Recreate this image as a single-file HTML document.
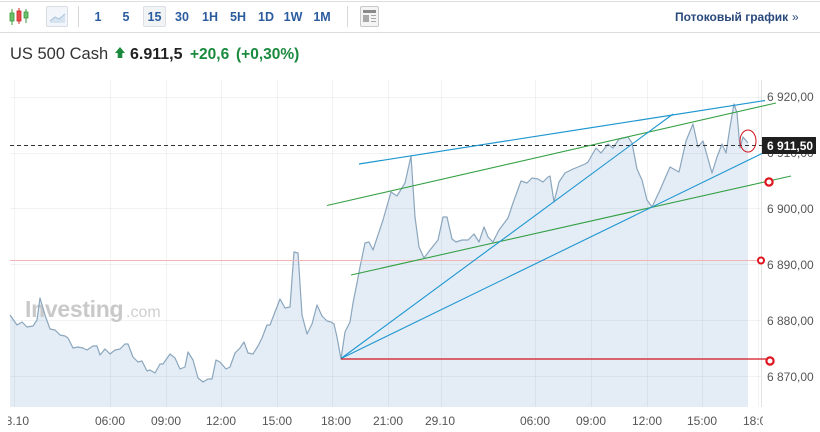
<!DOCTYPE html>
<html><head><meta charset="utf-8">
<style>
html,body{margin:0;padding:0;background:#fff;}
body{width:820px;height:432px;overflow:hidden;position:relative;font-family:"Liberation Sans",Arial,sans-serif;}
svg{position:absolute;left:0;top:0;}
</style></head><body>
<svg width="820" height="432" viewBox="0 0 820 432" xmlns="http://www.w3.org/2000/svg" font-family="Liberation Sans, Arial, sans-serif">
<!-- header borders -->
<line x1="0" y1="1.5" x2="820" y2="1.5" stroke="#dedede"/>
<line x1="0" y1="32.5" x2="820" y2="32.5" stroke="#dcdcdc"/>
<!-- candle icon -->
<g>
<line x1="12" y1="9" x2="12" y2="25" stroke="#3a9a3a"/>
<rect x="10" y="13" width="4" height="8" fill="#6cc06c" stroke="#3a9a3a" stroke-width="0.8"/>
<line x1="19" y1="8" x2="19" y2="24" stroke="#c82828"/>
<rect x="17" y="11" width="4" height="10" fill="#e84a4a" stroke="#c82828" stroke-width="0.8"/>
<line x1="26" y1="9" x2="26" y2="23" stroke="#3a9a3a"/>
<rect x="24" y="12" width="4" height="6" fill="#6cc06c" stroke="#3a9a3a" stroke-width="0.8"/>
</g>
<!-- area icon -->
<rect x="46.5" y="6.5" width="21" height="20" fill="#f2f5f9" stroke="#d8dde3" rx="1.5"/>
<path d="M50 21 L55 17 L59 19 L65 14 L65 23 L50 23 Z" fill="#d6e4f2"/>
<path d="M50 21 L55 17 L59 19 L65 14" fill="none" stroke="#a9c3dc" stroke-width="1"/>
<line x1="78.5" y1="6" x2="78.5" y2="27" stroke="#d6d6d6"/>
<!-- 15 box -->
<rect x="143.5" y="6.5" width="22" height="20" fill="#f1f3f5" stroke="#dcdfe3" rx="1.5"/>
<g font-size="12.5" font-weight="bold" fill="#2b5c9e" text-anchor="middle">
<text x="98" y="21">1</text>
<text x="126" y="21">5</text>
<text x="154.5" y="21">15</text>
<text x="182" y="21">30</text>
<text x="210" y="21">1H</text>
<text x="238" y="21">5H</text>
<text x="266" y="21">1D</text>
<text x="293" y="21">1W</text>
<text x="322" y="21">1M</text>
</g>
<line x1="347.5" y1="6" x2="347.5" y2="27" stroke="#d6d6d6"/>
<!-- news icon -->
<rect x="360.5" y="6.5" width="18" height="20" fill="#f4f4f4" stroke="#c8c8c8" rx="1.5"/>
<rect x="363" y="10" width="13" height="3" fill="#8a8a8a"/>
<rect x="363" y="15" width="6" height="7" fill="#a8a8a8"/>
<line x1="371" y1="15.5" x2="376" y2="15.5" stroke="#a8a8a8"/>
<line x1="371" y1="18.5" x2="376" y2="18.5" stroke="#a8a8a8"/>
<line x1="371" y1="21.5" x2="376" y2="21.5" stroke="#a8a8a8"/>
<text x="675" y="21" font-size="12" font-weight="bold" fill="#2a4a7c">Потоковый график</text>
<text x="792" y="21" font-size="12" fill="#2a4a7c">»</text>

<!-- title -->
<text x="10" y="59" font-size="16.5" fill="#333">US 500 Cash</text>
<path d="M120 47 L125 53 L122.3 53 L122.3 58 L117.7 58 L117.7 53 L115 53 Z" fill="#1a8a3e"/>
<text x="130" y="59" font-size="16" font-weight="bold" fill="#222">6.911,5</text>
<text x="190" y="59" font-size="15.5" font-weight="bold" fill="#1a8a3e">+20,6</text>
<text x="236" y="59" font-size="15.5" font-weight="bold" fill="#1a8a3e">(+0,30%)</text>

<!-- area fill -->
<polygon fill="#e4edf6" points="10,315 17,325 22,322 27,327 33,326 37,320 40,298 45,315 50,329 55,330 60,335 65,336 68,338 73,348 78,347 83,348 87,350 93,346 97,346 100,355 105,349 110,354 115,350 120,349 125,344 128,344 133,357 138,362 142,361 147,371 150,370 155,373 160,364 163,364 170,354 175,358 180,369 185,367 188,352 193,360 198,378 203,382 208,379 212,379 216,360 220,362 226,369 230,367 235,353 240,348 244,342 248,353 253,354 258,346 262,338 267,325 270,325 275,312 280,299 285,308 290,307 294,252 298,253 302,315 307,334 312,324 317,305 322,316 327,321 331,322 334,324 337,337 341,359 345,332 350,322 353,303 357,283 360,267 365,243 369,242 373,250 383,220 391,192 397,196 405,183 411,156 415,217 419,247 424,258 430,250 438,240 443,217 447,217 452,239 456,242 462,240 468,240 474,234 479,242 484,227 488,237 493,242 499,230 508,218 513,203 521,181 527,183 532,178 538,179 543,182 548,177 550,176 554,202 559,182 565,173 573,169 578,167 585,164 588,162 596,148 601,153 608,144 613,148 619,139 628,137 632,143 637,169 642,180 647,200 652,207 660,190 670,167 679,172 686,141 693,124 698,147 703,141 712,173 717,157 722,144 726,153 730,127 734,104 737,113 740,148 743,137 748,143 748,407 10,407"/>

<!-- grid -->
<g stroke="rgba(120,130,140,0.10)" stroke-width="1">
<line x1="14.5" y1="80" x2="14.5" y2="407"/>
<line x1="110.5" y1="80" x2="110.5" y2="407"/>
<line x1="166.5" y1="80" x2="166.5" y2="407"/>
<line x1="221.5" y1="80" x2="221.5" y2="407"/>
<line x1="277.5" y1="80" x2="277.5" y2="407"/>
<line x1="332.5" y1="80" x2="332.5" y2="407"/>
<line x1="388.5" y1="80" x2="388.5" y2="407"/>
<line x1="441.5" y1="80" x2="441.5" y2="407"/>
<line x1="535.5" y1="80" x2="535.5" y2="407"/>
<line x1="591.5" y1="80" x2="591.5" y2="407"/>
<line x1="647.5" y1="80" x2="647.5" y2="407"/>
<line x1="702.5" y1="80" x2="702.5" y2="407"/>
<line x1="758.5" y1="80" x2="758.5" y2="407"/>
<line x1="10" y1="97.5" x2="761" y2="97.5"/>
<line x1="10" y1="153.5" x2="761" y2="153.5"/>
<line x1="10" y1="208.5" x2="761" y2="208.5"/>
<line x1="10" y1="264.5" x2="761" y2="264.5"/>
<line x1="10" y1="320.5" x2="761" y2="320.5"/>
<line x1="10" y1="376.5" x2="761" y2="376.5"/>
</g>
<line x1="761.5" y1="80" x2="761.5" y2="407" stroke="#e2e2e2"/>

<!-- watermark -->
<text x="25" y="317" font-size="23" font-weight="bold" fill="#c9c9c9" letter-spacing="-0.3">Investing</text>
<text x="126" y="317" font-size="16" fill="#cfcfcf">.com</text>

<!-- price line -->
<polyline fill="none" stroke="#8ba6bd" stroke-width="1.2" stroke-linejoin="round" points="10,315 17,325 22,322 27,327 33,326 37,320 40,298 45,315 50,329 55,330 60,335 65,336 68,338 73,348 78,347 83,348 87,350 93,346 97,346 100,355 105,349 110,354 115,350 120,349 125,344 128,344 133,357 138,362 142,361 147,371 150,370 155,373 160,364 163,364 170,354 175,358 180,369 185,367 188,352 193,360 198,378 203,382 208,379 212,379 216,360 220,362 226,369 230,367 235,353 240,348 244,342 248,353 253,354 258,346 262,338 267,325 270,325 275,312 280,299 285,308 290,307 294,252 298,253 302,315 307,334 312,324 317,305 322,316 327,321 331,322 334,324 337,337 341,359 345,332 350,322 353,303 357,283 360,267 365,243 369,242 373,250 383,220 391,192 397,196 405,183 411,156 415,217 419,247 424,258 430,250 438,240 443,217 447,217 452,239 456,242 462,240 468,240 474,234 479,242 484,227 488,237 493,242 499,230 508,218 513,203 521,181 527,183 532,178 538,179 543,182 548,177 550,176 554,202 559,182 565,173 573,169 578,167 585,164 588,162 596,148 601,153 608,144 613,148 619,139 628,137 632,143 637,169 642,180 647,200 652,207 660,190 670,167 679,172 686,141 693,124 698,147 703,141 712,173 717,157 722,144 726,153 730,127 734,104 737,113 740,148 743,137 748,143"/>

<!-- pink level -->
<line x1="10" y1="260.5" x2="761" y2="260.5" stroke="#f2b4b4" stroke-width="1"/>
<circle cx="761" cy="260.5" r="3" fill="#fff" stroke="#e0141e" stroke-width="2"/>

<!-- dashed current price -->
<line x1="10" y1="145.5" x2="762" y2="145.5" stroke="#333" stroke-width="1" stroke-dasharray="4,3"/>

<!-- green lines -->
<line x1="327" y1="205.5" x2="776" y2="103" stroke="#36a046" stroke-width="1.1"/>
<line x1="351" y1="275" x2="791" y2="176" stroke="#36a046" stroke-width="1.1"/>
<!-- blue lines -->
<line x1="359" y1="164" x2="765" y2="100.5" stroke="#1e96d0" stroke-width="1.2"/>
<line x1="341" y1="358.5" x2="673" y2="114" stroke="#1e96d0" stroke-width="1.1"/>
<line x1="341" y1="358.5" x2="764" y2="152.5" stroke="#1e96d0" stroke-width="1.1"/>
<!-- red horizontal -->
<line x1="341" y1="359" x2="766" y2="359" stroke="#d0141e" stroke-width="1.3"/>
<circle cx="770" cy="361" r="3.6" fill="#fff" stroke="#e0141e" stroke-width="2.2"/>
<circle cx="769" cy="182" r="3.6" fill="#fff" stroke="#e0141e" stroke-width="2.2"/>
<ellipse cx="748" cy="141" rx="8" ry="11" fill="none" stroke="#d0141e" stroke-width="1"/>

<!-- y labels -->
<g font-size="12" fill="#555">
<text x="767" y="101">6 920,00</text>
<text x="767" y="157">6 910,00</text>
<text x="767" y="213">6 900,00</text>
<text x="767" y="269">6 890,00</text>
<text x="767" y="325">6 880,00</text>
<text x="767" y="381">6 870,00</text>
</g>
<rect x="762" y="137" width="54" height="17" fill="#1f1f1f"/>
<text x="767" y="150" font-size="12" font-weight="bold" fill="#fff">6 911,50</text>

<!-- x labels -->
<defs><clipPath id="c1"><rect x="8" y="405" width="812" height="27"/></clipPath><clipPath id="c2"><rect x="0" y="405" width="763" height="27"/></clipPath></defs>
<g font-size="12" fill="#555" text-anchor="middle" clip-path="url(#c2)">
<text x="14" y="425" clip-path="url(#c1)">28.10</text>
<text x="110" y="425">06:00</text>
<text x="166" y="425">09:00</text>
<text x="221" y="425">12:00</text>
<text x="277" y="425">15:00</text>
<text x="336" y="425">18:00</text>
<text x="388" y="425">21:00</text>
<text x="440" y="425">29.10</text>
<text x="535" y="425">06:00</text>
<text x="591" y="425">09:00</text>
<text x="647" y="425">12:00</text>
<text x="702" y="425">15:00</text>
<text x="758" y="425">18:00</text>
</g>
</svg>
</body></html>
